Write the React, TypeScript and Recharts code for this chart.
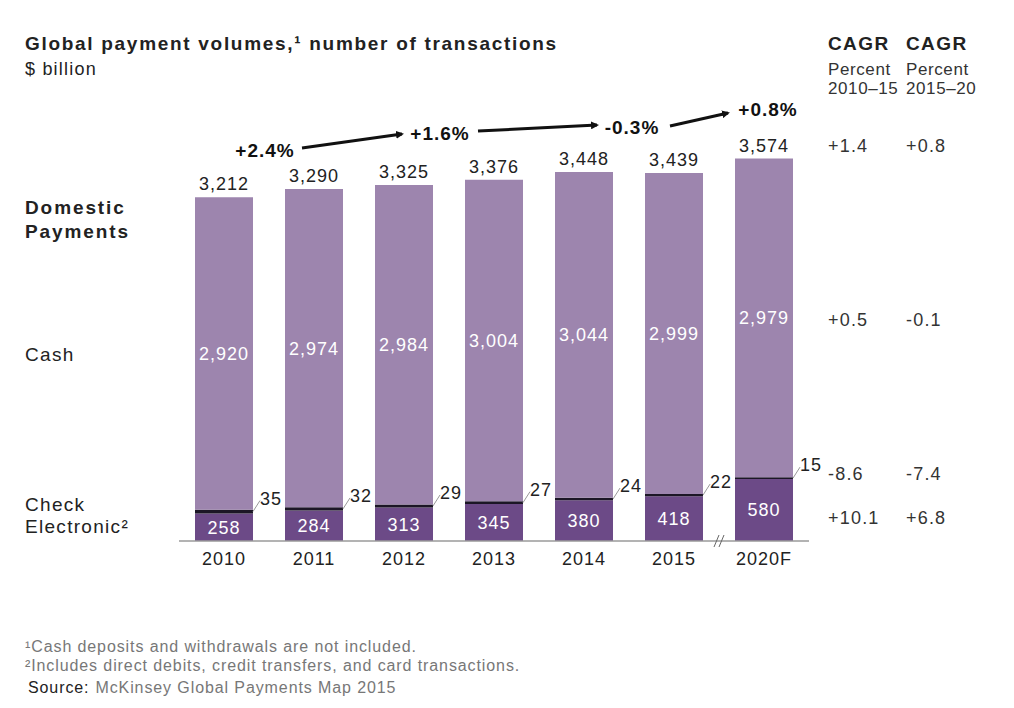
import { BarChart, Bar, XAxis, YAxis } from "recharts";

const years = ["2010", "2011", "2012", "2013", "2014", "2015", "2020F"];
const electronic = [258, 284, 313, 345, 380, 418, 580];
const check = [35, 32, 29, 27, 24, 22, 15];
const cash = [2920, 2974, 2984, 3004, 3044, 2999, 2979];
const totals = [3212, 3290, 3325, 3376, 3448, 3439, 3574];

const growth = ["+2.4%", "+1.6%", "-0.3%", "+0.8%"];
const cagr1015 = ["+1.4", "+0.5", "-8.6", "+10.1"];
const cagr1520 = ["+0.8", "-0.1", "-7.4", "+6.8"];

const data = years.map((year, i) => ({
  year,
  electronic: electronic[i],
  check: check[i],
  cash: cash[i],
}));

const W = 1014;
const H = 708;
const margin = { top: 113, right: 205, bottom: 137, left: 179 };
const font = "'Liberation Sans', Arial, Helvetica, sans-serif";
const ink = "#222";
const ls = 1;

const fmt = (v: number) => v.toLocaleString("en-US");

const ElectronicLabel = (props: any) => {
  const { x, y, width, height, index } = props;
  return (
    <text
      x={x + width / 2}
      y={y + height / 2}
      dy="0.36em"
      textAnchor="middle"
      fontSize={18}
      letterSpacing={ls}
      fill="#fff"
      fontFamily={font}
    >
      {fmt(electronic[index])}
    </text>
  );
};

const CheckLabel = (props: any) => {
  const { x, y, width, height, index } = props;
  const x0 = x + width;
  const y0 = y + height / 2;
  return (
    <g>
      <line x1={x0} y1={y0} x2={x0 + 7} y2={y0 - 11} stroke="#999" strokeWidth={1} />
      <text x={x0 + 7} y={y0 - 7} fontSize={18} letterSpacing={ls} fill={ink} fontFamily={font}>
        {check[index]}
      </text>
    </g>
  );
};

const CashLabel = (props: any) => {
  const { x, y, width, height, index } = props;
  return (
    <g>
      <text
        x={x + width / 2}
        y={y + height / 2}
        dy="0.36em"
        textAnchor="middle"
        fontSize={18}
        letterSpacing={ls}
        fill="#fff"
        fontFamily={font}
      >
        {fmt(cash[index])}
      </text>
      <text
        x={x + width / 2}
        y={y - 7}
        textAnchor="middle"
        fontSize={18}
        letterSpacing={ls}
        fill={ink}
        fontFamily={font}
      >
        {fmt(totals[index])}
      </text>
    </g>
  );
};

export default function App() {
  const band = (W - margin.left - margin.right) / years.length;
  const cx = (i: number) => margin.left + band * (i + 0.5);

  return (
    <div style={{ position: "absolute", left: 0, top: 0, width: W, height: H, background: "#fff" }}>
      <BarChart width={W} height={H} data={data} margin={margin} barSize={58}>
        <XAxis
          dataKey="year"
          tickLine={false}
          axisLine={{ stroke: "#9a9a9a", strokeWidth: 1.5 }}
          tick={{ fontSize: 18, fill: ink, fontFamily: font, letterSpacing: ls }}
          tickMargin={5}
          interval={0}
        />
        <YAxis hide domain={[0, 4000]} />
        <Bar dataKey="electronic" stackId="a" fill="#6c4a87" isAnimationActive={false} label={ElectronicLabel} />
        <Bar dataKey="check" stackId="a" fill="#1c1626" isAnimationActive={false} label={CheckLabel} />
        <Bar dataKey="cash" stackId="a" fill="#9d85ae" isAnimationActive={false} label={CashLabel} />
      </BarChart>

      <svg
        width={W}
        height={H}
        style={{ position: "absolute", left: 0, top: 0, pointerEvents: "none" }}
        fontFamily={font}
      >
        <defs>
          <marker id="ah" markerWidth="8" markerHeight="8" refX="6" refY="4" orient="auto" markerUnits="userSpaceOnUse">
            <path d="M0,0 L8,4 L0,8 z" fill="#111" />
          </marker>
        </defs>

        {/* title */}
        <text x={25} y={50} fontSize={19} fontWeight="bold" letterSpacing={1.7} fill={ink}>
          Global payment volumes,¹ number of transactions
        </text>
        <text x={25} y={75} fontSize={18} letterSpacing={1.2} fill={ink}>
          $ billion
        </text>

        {/* row labels */}
        <text x={25} y={214} fontSize={19} fontWeight="bold" letterSpacing={1.9} fill={ink}>Domestic</text>
        <text x={25} y={238} fontSize={19} fontWeight="bold" letterSpacing={1.9} fill={ink}>Payments</text>
        <text x={25} y={361} fontSize={19} letterSpacing={1.3} fill={ink}>Cash</text>
        <text x={25} y={511} fontSize={19} letterSpacing={1.3} fill={ink}>Check</text>
        <text x={25} y={533} fontSize={19} letterSpacing={1.3} fill={ink}>Electronic²</text>

        {/* growth arrows */}
        <text x={(cx(0) + cx(1)) / 2 - 4} y={157} fontSize={19} fontWeight="bold" letterSpacing={ls} textAnchor="middle" fill="#111">{growth[0]}</text>
        <line x1={302} y1={148} x2={402} y2={134} stroke="#111" strokeWidth={3} markerEnd="url(#ah)" />
        <text x={cx(2) + 36} y={140} fontSize={19} fontWeight="bold" letterSpacing={ls} textAnchor="middle" fill="#111">{growth[1]}</text>
        <line x1={478} y1={131} x2={597} y2={125} stroke="#111" strokeWidth={3} markerEnd="url(#ah)" />
        <text x={cx(4) + 48} y={134} fontSize={19} fontWeight="bold" letterSpacing={ls} textAnchor="middle" fill="#111">{growth[2]}</text>
        <line x1={670} y1={126} x2={728} y2={113} stroke="#111" strokeWidth={3} markerEnd="url(#ah)" />
        <text x={cx(6) + 4} y={116} fontSize={19} fontWeight="bold" letterSpacing={ls} textAnchor="middle" fill="#111">{growth[3]}</text>

        {/* axis break */}
        <line x1={714} y1={547} x2={719} y2={535} stroke="#666" strokeWidth={1} />
        <line x1={719} y1={547} x2={724} y2={535} stroke="#666" strokeWidth={1} />

        {/* CAGR columns */}
        <text x={828} y={50} fontSize={19} fontWeight="bold" letterSpacing={1.4} fill={ink}>CAGR</text>
        <text x={906} y={50} fontSize={19} fontWeight="bold" letterSpacing={1.4} fill={ink}>CAGR</text>
        <text x={828} y={75} fontSize={17} letterSpacing={0.6} fill="#333">Percent</text>
        <text x={906} y={75} fontSize={17} letterSpacing={0.6} fill="#333">Percent</text>
        <text x={828} y={94} fontSize={17} letterSpacing={0.6} fill="#333">2010–15</text>
        <text x={906} y={94} fontSize={17} letterSpacing={0.6} fill="#333">2015–20</text>
        {cagr1015.map((_, i) => {
          const ys = [152, 326, 480, 524];
          return (
            <g key={i}>
              <text x={828} y={ys[i]} fontSize={18} letterSpacing={1.2} fill="#333">{cagr1015[i]}</text>
              <text x={906} y={ys[i]} fontSize={18} letterSpacing={1.2} fill="#333">{cagr1520[i]}</text>
            </g>
          );
        })}

        {/* footnotes */}
        <text x={25} y={652} fontSize={16} letterSpacing={0.9} fill="#777">¹Cash deposits and withdrawals are not included.</text>
        <text x={25} y={671} fontSize={16} letterSpacing={0.9} fill="#777">²Includes direct debits, credit transfers, and card transactions.</text>
        <text x={28} y={693} fontSize={16} letterSpacing={0.9} fill="#777">
          <tspan fill="#222">Source:</tspan>
          <tspan dx={6}>McKinsey Global Payments Map 2015</tspan>
        </text>
      </svg>
    </div>
  );
}
